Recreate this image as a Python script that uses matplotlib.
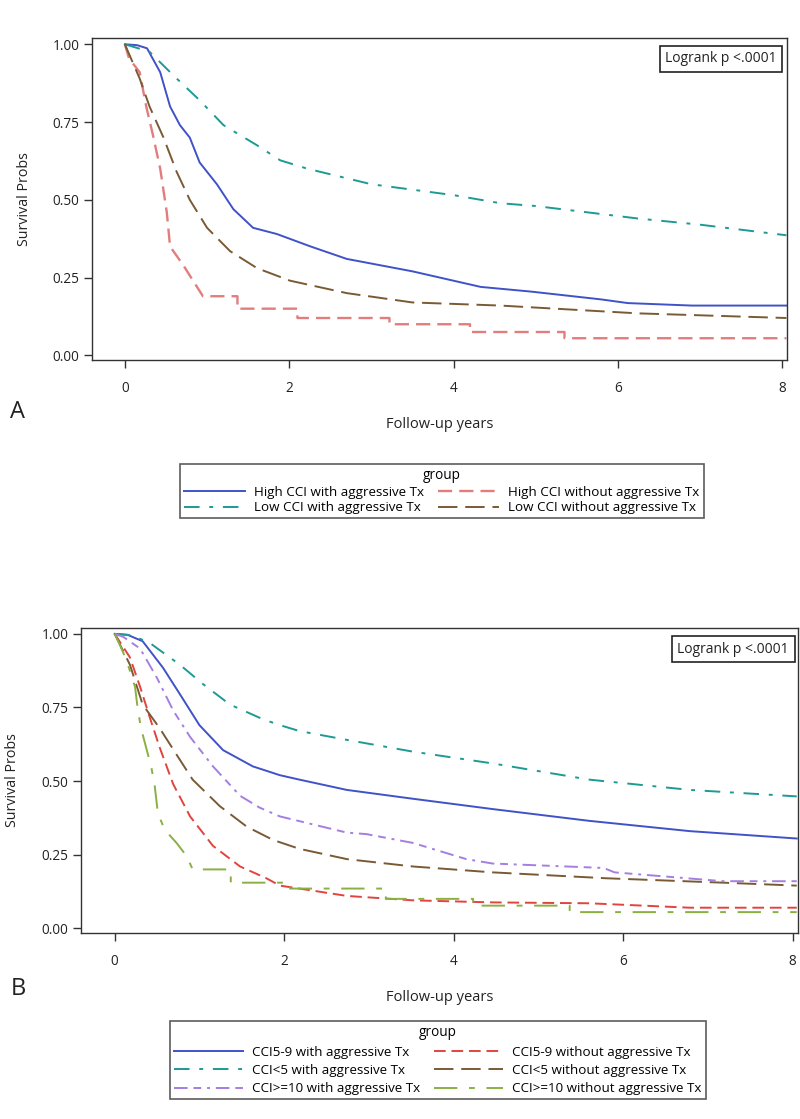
import matplotlib
matplotlib.use("Agg")
import matplotlib.pyplot as plt

plt.rcParams['font.family'] = ['Open Sans', 'DejaVu Sans']

# ---------------- Panel A data ----------------
a_labels = ["High CCI with aggressive Tx", "High CCI without aggressive Tx",
            "Low CCI with aggressive Tx", "Low CCI without aggressive Tx"]

a_high_with_t = [0, 0.15, 0.27, 0.43, 0.55, 0.67, 0.79, 0.91, 1.12, 1.32, 1.56, 1.85, 2.26, 2.7, 3.5, 4.33, 4.94, 5.79, 6.12, 6.9, 8.05]
a_high_with_s = [1.0, 0.997, 0.987, 0.91, 0.80, 0.74, 0.70, 0.62, 0.55, 0.47, 0.41, 0.39, 0.35, 0.31, 0.27, 0.22, 0.205, 0.18, 0.168, 0.16, 0.16]

# step curve: corners listed explicitly (time, survival)
a_high_wo_t = [0, 0.05, 0.18, 0.26, 0.34, 0.43, 0.51, 0.55, 0.71, 0.83, 0.95, 1.37, 1.37, 2.1, 2.1, 3.22, 3.22, 4.2, 4.2, 5.35, 5.35, 8.05]
a_high_wo_s = [1.0, 0.955, 0.91, 0.80, 0.71, 0.60, 0.46, 0.35, 0.29, 0.24, 0.19, 0.19, 0.15, 0.15, 0.12, 0.12, 0.10, 0.10, 0.075, 0.075, 0.055, 0.055]

a_low_with_t = [0, 0.30, 0.59, 0.91, 1.20, 1.61, 1.89, 2.22, 3.0, 4.0, 4.57, 5.0, 6.24, 7.0, 8.05]
a_low_with_s = [1.0, 0.976, 0.90, 0.82, 0.74, 0.675, 0.627, 0.60, 0.55, 0.515, 0.489, 0.48, 0.44, 0.42, 0.386]

a_low_wo_t = [0, 0.18, 0.30, 0.47, 0.63, 0.79, 1.0, 1.28, 1.61, 2.01, 2.7, 3.5, 4.57, 6.24, 8.05]
a_low_wo_s = [1.0, 0.89, 0.80, 0.70, 0.59, 0.50, 0.41, 0.335, 0.28, 0.24, 0.20, 0.17, 0.16, 0.135, 0.12]

# ---------------- Panel B data ----------------
b_labels = ["CCI5-9 with aggressive Tx", "CCI5-9 without aggressive Tx",
            "CCI<5 with aggressive Tx", "CCI<5 without aggressive Tx",
            "CCI>=10 with aggressive Tx", "CCI>=10 without aggressive Tx"]

b_59_with_t = [0, 0.15, 0.33, 0.57, 0.77, 1.0, 1.28, 1.63, 1.95, 2.18, 2.74, 3.52, 4.46, 5.6, 6.79, 8.05]
b_59_with_s = [1.0, 0.997, 0.975, 0.885, 0.795, 0.69, 0.605, 0.55, 0.52, 0.505, 0.47, 0.44, 0.405, 0.365, 0.33, 0.305]

b_59_wo_t = [0, 0.18, 0.30, 0.41, 0.53, 0.69, 0.89, 1.16, 1.48, 1.79, 1.95, 2.18, 2.74, 3.52, 4.46, 5.6, 6.79, 8.05]
b_59_wo_s = [1.0, 0.92, 0.82, 0.72, 0.615, 0.49, 0.38, 0.28, 0.21, 0.17, 0.145, 0.135, 0.11, 0.095, 0.088, 0.085, 0.07, 0.07]

b_lt5_with_t = [0, 0.2, 0.41, 0.77, 1.04, 1.36, 1.75, 1.95, 2.18, 2.74, 3.52, 4.46, 5.6, 6.79, 8.05]
b_lt5_with_s = [1.0, 0.995, 0.97, 0.895, 0.83, 0.76, 0.71, 0.69, 0.67, 0.64, 0.60, 0.56, 0.505, 0.47, 0.448]

b_lt5_wo_t = [0, 0.18, 0.33, 0.53, 0.73, 0.92, 1.24, 1.56, 1.87, 2.18, 2.74, 3.52, 4.46, 5.8, 7.18, 8.05]
b_lt5_wo_s = [1.0, 0.895, 0.76, 0.68, 0.59, 0.505, 0.415, 0.345, 0.30, 0.27, 0.235, 0.21, 0.19, 0.17, 0.155, 0.145]

b_ge10_with_t = [0, 0.1, 0.3, 0.5, 0.69, 0.89, 1.16, 1.48, 1.71, 1.95, 2.74, 2.97, 3.52, 4.15, 4.46, 5.77, 5.9, 7.18, 8.05]
b_ge10_with_s = [1.0, 0.99, 0.95, 0.85, 0.74, 0.65, 0.55, 0.45, 0.41, 0.38, 0.325, 0.32, 0.29, 0.235, 0.22, 0.205, 0.19, 0.16, 0.16]

b_ge10_wo_t = [0, 0.05, 0.14, 0.24, 0.27, 0.31, 0.37, 0.43, 0.47, 0.51, 0.59, 0.73, 0.85, 0.92, 1.37, 1.37, 2.07, 2.07, 3.2, 3.2, 4.23, 4.23, 5.37, 5.37, 8.05]
b_ge10_wo_s = [1.0, 0.97, 0.91, 0.82, 0.75, 0.68, 0.615, 0.55, 0.49, 0.39, 0.335, 0.29, 0.245, 0.20, 0.20, 0.155, 0.155, 0.135, 0.135, 0.10, 0.10, 0.077, 0.077, 0.055, 0.055]

y_ticks = [0.0, 0.25, 0.5, 0.75, 1.0]
y_ticklabels = ["0.00", "0.25", "0.50", "0.75", "1.00"]
x_ticks = [0, 2, 4, 6, 8]

# ---------------- Styles ----------------
BLUE = '#3f52c8'
TEAL = '#1d9a94'
PINK = '#e27d7d'
BROWN = '#7a5a34'
RED = '#e0443f'
PURPLE = '#a47fe0'
GREEN = '#8ab042'
INK = '#222222'

fig = plt.figure(figsize=(8, 11.19), dpi=100)


def style_axes(ax):
    ax.set_xlim(-0.4, 8.06)
    ax.set_ylim(-0.016, 1.02)
    ax.set_yticks(y_ticks)
    ax.set_yticklabels(y_ticklabels)
    ax.set_xticks(x_ticks)
    for sp in ax.spines.values():
        sp.set_color('#333333')
        sp.set_linewidth(1.0)
    ax.tick_params(axis='both', direction='out', length=6, width=1, colors='#333333',
                   labelsize=9.8, labelcolor=INK)
    ax.tick_params(axis='x', pad=9)
    ax.tick_params(axis='y', pad=3)
    ax.set_xlabel("Follow-up years", fontsize=10.5, color=INK, labelpad=15)
    ax.set_ylabel("Survival Probs", fontsize=10.3, color=INK, labelpad=15)


LEG_KW = dict(ncol=2, loc='center', title='group', fontsize=9.6, title_fontsize=9.8,
              frameon=True, fancybox=False, edgecolor='#333333',
              columnspacing=1.0, borderpad=0.3, handletextpad=0.7)

# ---------------- Panel A ----------------
axA = fig.add_axes([0.115, 0.678, 0.869, 0.288])
lA1, = axA.plot(a_high_with_t, a_high_with_s, color=BLUE, lw=1.4, ls='-', label=a_labels[0])
lA2, = axA.plot(a_high_wo_t, a_high_wo_s, color=PINK, lw=1.7, ls=(0, (6, 3)), label=a_labels[1])
lA3, = axA.plot(a_low_with_t, a_low_with_s, color=TEAL, lw=1.4, ls=(0, (8, 5, 2, 5)), label=a_labels[2])
lA4, = axA.plot(a_low_wo_t, a_low_wo_s, color=BROWN, lw=1.4, ls=(0, (10, 4)), label=a_labels[3])
style_axes(axA)
axA.text(0.985, 0.936, "Logrank p <.0001", transform=axA.transAxes, ha='right', va='center',
         fontsize=10, color=INK,
         bbox=dict(boxstyle='square,pad=0.4', fc='white', ec=INK, lw=1.2))
fig.text(0.012, 0.632, "A", fontsize=17, color=INK, va='center')

legA = fig.legend(handles=[lA1, lA3, lA2, lA4], labels=[a_labels[0], a_labels[2], a_labels[1], a_labels[3]],
                  bbox_to_anchor=(0.552, 0.561), labelspacing=0.2, handlelength=4.6, **LEG_KW)
legA.get_frame().set_linewidth(1.2)

# ---------------- Panel B ----------------
axB = fig.add_axes([0.101, 0.1662, 0.896, 0.2726])
lB1, = axB.plot(b_59_with_t, b_59_with_s, color=BLUE, lw=1.4, ls='-', label=b_labels[0])
lB2, = axB.plot(b_59_wo_t, b_59_wo_s, color=RED, lw=1.4, ls=(0, (6, 3)), label=b_labels[1])
lB3, = axB.plot(b_lt5_with_t, b_lt5_with_s, color=TEAL, lw=1.4, ls=(0, (8, 5, 2, 5)), label=b_labels[2])
lB4, = axB.plot(b_lt5_wo_t, b_lt5_wo_s, color=BROWN, lw=1.4, ls=(0, (10, 4)), label=b_labels[3])
lB5, = axB.plot(b_ge10_with_t, b_ge10_with_s, color=PURPLE, lw=1.4, ls=(0, (7, 3, 4, 3, 1.5, 3)), label=b_labels[4])
lB6, = axB.plot(b_ge10_wo_t, b_ge10_wo_s, color=GREEN, lw=1.4, ls=(0, (12, 6, 3, 6)), label=b_labels[5])
style_axes(axB)
axB.text(0.988, 0.931, "Logrank p <.0001", transform=axB.transAxes, ha='right', va='center',
         fontsize=10, color=INK,
         bbox=dict(boxstyle='square,pad=0.4', fc='white', ec=INK, lw=1.2))
fig.text(0.014, 0.116, "B", fontsize=17, color=INK, va='center')

legB = fig.legend(handles=[lB1, lB3, lB5, lB2, lB4, lB6],
                  labels=[b_labels[0], b_labels[2], b_labels[4], b_labels[1], b_labels[3], b_labels[5]],
                  bbox_to_anchor=(0.547, 0.0525), labelspacing=0.4, handlelength=5.2, **LEG_KW)
legB.get_frame().set_linewidth(1.2)

fig.savefig("out.png", dpi=100)
